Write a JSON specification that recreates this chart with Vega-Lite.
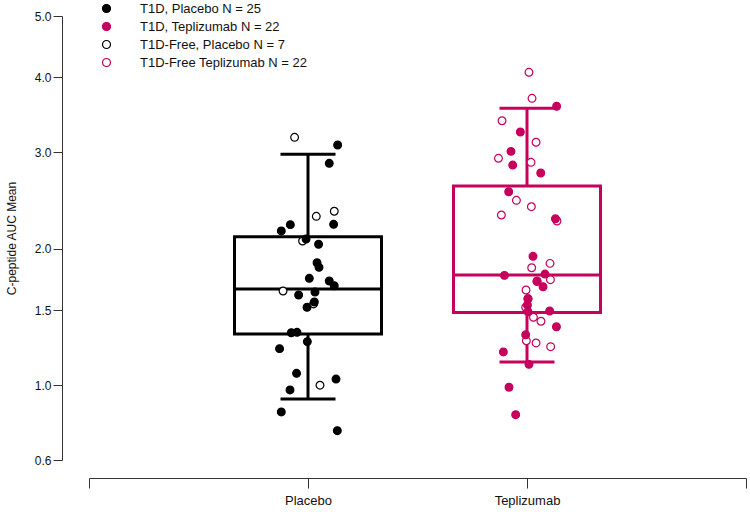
{
  "$schema": "https://vega.github.io/schema/vega-lite/v6.json",
  "autosize": "none",
  "width": 657,
  "height": 444,
  "padding": {"left": 89, "top": 16, "right": 4, "bottom": 52},
  "background": "white",
  "config": {
    "view": {"stroke": null},
    "font": "Liberation Sans",
    "tick": {"opacity": 1},
    "axis": {"grid": false, "domainColor": "#333333", "tickColor": "#333333", "labelColor": "#111111", "titleColor": "#111111", "labelFont": "Liberation Sans", "titleFont": "Liberation Sans", "titleFontWeight": "normal"},
    "legend": {"labelFont": "Liberation Sans", "labelFontSize": 13, "labelColor": "#111111", "labelLimit": 0}
  },
  "datasets": {
    "stats": [
      {"group": "Placebo", "low": 0.919, "q1": 1.328, "median": 1.662, "q3": 2.11, "high": 2.975},
      {"group": "Teplizumab", "low": 1.142, "q1": 1.483, "median": 1.775, "q3": 2.617, "high": 3.56}
    ],
    "points": [
      {"group": "Placebo", "series": "T1D-Free, Placebo N = 7", "value": 3.181, "jitter": -0.123},
      {"group": "Placebo", "series": "T1D-Free, Placebo N = 7", "value": 2.355, "jitter": 0.241},
      {"group": "Placebo", "series": "T1D-Free, Placebo N = 7", "value": 2.305, "jitter": 0.076},
      {"group": "Placebo", "series": "T1D-Free, Placebo N = 7", "value": 2.071, "jitter": -0.05},
      {"group": "Placebo", "series": "T1D-Free, Placebo N = 7", "value": 1.646, "jitter": -0.229},
      {"group": "Placebo", "series": "T1D-Free, Placebo N = 7", "value": 1.546, "jitter": 0.051},
      {"group": "Placebo", "series": "T1D-Free, Placebo N = 7", "value": 0.999, "jitter": 0.11},
      {"group": "Teplizumab", "series": "T1D-Free Teplizumab N = 22", "value": 4.074, "jitter": 0.018},
      {"group": "Teplizumab", "series": "T1D-Free Teplizumab N = 22", "value": 3.696, "jitter": 0.046},
      {"group": "Teplizumab", "series": "T1D-Free Teplizumab N = 22", "value": 3.393, "jitter": -0.229},
      {"group": "Teplizumab", "series": "T1D-Free Teplizumab N = 22", "value": 3.12, "jitter": 0.083},
      {"group": "Teplizumab", "series": "T1D-Free Teplizumab N = 22", "value": 2.928, "jitter": -0.262},
      {"group": "Teplizumab", "series": "T1D-Free Teplizumab N = 22", "value": 2.881, "jitter": 0.037},
      {"group": "Teplizumab", "series": "T1D-Free Teplizumab N = 22", "value": 2.466, "jitter": -0.097},
      {"group": "Teplizumab", "series": "T1D-Free Teplizumab N = 22", "value": 2.401, "jitter": 0.04},
      {"group": "Teplizumab", "series": "T1D-Free Teplizumab N = 22", "value": 2.318, "jitter": -0.235},
      {"group": "Teplizumab", "series": "T1D-Free Teplizumab N = 22", "value": 2.259, "jitter": 0.275},
      {"group": "Teplizumab", "series": "T1D-Free Teplizumab N = 22", "value": 1.873, "jitter": 0.211},
      {"group": "Teplizumab", "series": "T1D-Free Teplizumab N = 22", "value": 1.836, "jitter": 0.043},
      {"group": "Teplizumab", "series": "T1D-Free Teplizumab N = 22", "value": 1.737, "jitter": 0.215},
      {"group": "Teplizumab", "series": "T1D-Free Teplizumab N = 22", "value": 1.654, "jitter": -0.009},
      {"group": "Teplizumab", "series": "T1D-Free Teplizumab N = 22", "value": 1.521, "jitter": -0.012},
      {"group": "Teplizumab", "series": "T1D-Free Teplizumab N = 22", "value": 1.447, "jitter": 0.059},
      {"group": "Teplizumab", "series": "T1D-Free Teplizumab N = 22", "value": 1.418, "jitter": 0.128},
      {"group": "Teplizumab", "series": "T1D-Free Teplizumab N = 22", "value": 1.282, "jitter": -0.006},
      {"group": "Teplizumab", "series": "T1D-Free Teplizumab N = 22", "value": 1.267, "jitter": 0.083},
      {"group": "Teplizumab", "series": "T1D-Free Teplizumab N = 22", "value": 1.242, "jitter": 0.217},
      {"group": "Teplizumab", "series": "T1D-Free Teplizumab N = 22", "value": 1.586, "jitter": 0.009},
      {"group": "Teplizumab", "series": "T1D-Free Teplizumab N = 22", "value": 1.724, "jitter": 0.092},
      {"group": "Placebo", "series": "T1D, Placebo N = 25", "value": 3.087, "jitter": 0.272},
      {"group": "Placebo", "series": "T1D, Placebo N = 25", "value": 2.87, "jitter": 0.195},
      {"group": "Placebo", "series": "T1D, Placebo N = 25", "value": 2.224, "jitter": -0.162},
      {"group": "Placebo", "series": "T1D, Placebo N = 25", "value": 2.164, "jitter": -0.245},
      {"group": "Placebo", "series": "T1D, Placebo N = 25", "value": 2.227, "jitter": 0.235},
      {"group": "Placebo", "series": "T1D, Placebo N = 25", "value": 2.089, "jitter": -0.018},
      {"group": "Placebo", "series": "T1D, Placebo N = 25", "value": 2.041, "jitter": 0.097},
      {"group": "Placebo", "series": "T1D, Placebo N = 25", "value": 1.878, "jitter": 0.083},
      {"group": "Placebo", "series": "T1D, Placebo N = 25", "value": 1.839, "jitter": 0.101},
      {"group": "Placebo", "series": "T1D, Placebo N = 25", "value": 1.748, "jitter": 0.012},
      {"group": "Placebo", "series": "T1D, Placebo N = 25", "value": 1.726, "jitter": 0.195},
      {"group": "Placebo", "series": "T1D, Placebo N = 25", "value": 1.688, "jitter": 0.241},
      {"group": "Placebo", "series": "T1D, Placebo N = 25", "value": 1.615, "jitter": -0.086},
      {"group": "Placebo", "series": "T1D, Placebo N = 25", "value": 1.638, "jitter": 0.064},
      {"group": "Placebo", "series": "T1D, Placebo N = 25", "value": 1.561, "jitter": 0.058},
      {"group": "Placebo", "series": "T1D, Placebo N = 25", "value": 1.521, "jitter": -0.009},
      {"group": "Placebo", "series": "T1D, Placebo N = 25", "value": 1.337, "jitter": -0.153},
      {"group": "Placebo", "series": "T1D, Placebo N = 25", "value": 1.34, "jitter": -0.101},
      {"group": "Placebo", "series": "T1D, Placebo N = 25", "value": 1.276, "jitter": -0.006},
      {"group": "Placebo", "series": "T1D, Placebo N = 25", "value": 1.229, "jitter": -0.261},
      {"group": "Placebo", "series": "T1D, Placebo N = 25", "value": 1.071, "jitter": -0.105},
      {"group": "Placebo", "series": "T1D, Placebo N = 25", "value": 1.036, "jitter": 0.257},
      {"group": "Placebo", "series": "T1D, Placebo N = 25", "value": 0.971, "jitter": -0.165},
      {"group": "Placebo", "series": "T1D, Placebo N = 25", "value": 0.846, "jitter": -0.245},
      {"group": "Placebo", "series": "T1D, Placebo N = 25", "value": 0.746, "jitter": 0.269},
      {"group": "Teplizumab", "series": "T1D, Teplizumab N = 22", "value": 3.586, "jitter": 0.272},
      {"group": "Teplizumab", "series": "T1D, Teplizumab N = 22", "value": 3.248, "jitter": -0.061},
      {"group": "Teplizumab", "series": "T1D, Teplizumab N = 22", "value": 3.01, "jitter": -0.147},
      {"group": "Teplizumab", "series": "T1D, Teplizumab N = 22", "value": 2.85, "jitter": -0.131},
      {"group": "Teplizumab", "series": "T1D, Teplizumab N = 22", "value": 2.76, "jitter": 0.126},
      {"group": "Teplizumab", "series": "T1D, Teplizumab N = 22", "value": 2.556, "jitter": -0.168},
      {"group": "Teplizumab", "series": "T1D, Teplizumab N = 22", "value": 2.281, "jitter": 0.261},
      {"group": "Teplizumab", "series": "T1D, Teplizumab N = 22", "value": 1.934, "jitter": 0.055},
      {"group": "Teplizumab", "series": "T1D, Teplizumab N = 22", "value": 1.772, "jitter": -0.207},
      {"group": "Teplizumab", "series": "T1D, Teplizumab N = 22", "value": 1.783, "jitter": 0.165},
      {"group": "Teplizumab", "series": "T1D, Teplizumab N = 22", "value": 1.724, "jitter": 0.092},
      {"group": "Teplizumab", "series": "T1D, Teplizumab N = 22", "value": 1.68, "jitter": 0.147},
      {"group": "Teplizumab", "series": "T1D, Teplizumab N = 22", "value": 1.586, "jitter": 0.009},
      {"group": "Teplizumab", "series": "T1D, Teplizumab N = 22", "value": 1.538, "jitter": 0.004},
      {"group": "Teplizumab", "series": "T1D, Teplizumab N = 22", "value": 1.488, "jitter": 0.009},
      {"group": "Teplizumab", "series": "T1D, Teplizumab N = 22", "value": 1.493, "jitter": 0.208},
      {"group": "Teplizumab", "series": "T1D, Teplizumab N = 22", "value": 1.379, "jitter": 0.27},
      {"group": "Teplizumab", "series": "T1D, Teplizumab N = 22", "value": 1.323, "jitter": -0.012},
      {"group": "Teplizumab", "series": "T1D, Teplizumab N = 22", "value": 1.207, "jitter": -0.217},
      {"group": "Teplizumab", "series": "T1D, Teplizumab N = 22", "value": 1.127, "jitter": 0.018},
      {"group": "Teplizumab", "series": "T1D, Teplizumab N = 22", "value": 0.987, "jitter": -0.165},
      {"group": "Teplizumab", "series": "T1D, Teplizumab N = 22", "value": 0.831, "jitter": -0.104}
    ]
  },
  "encoding": {
    "x": {
      "field": "group",
      "type": "nominal",
      "scale": {"type": "point", "domain": ["_l", "Placebo", "Teplizumab", "_r"], "padding": 0},
      "axis": {
        "title": null,
        "offset": 18,
        "labelAngle": 0,
        "tickSize": 10,
        "labelPadding": 6,
        "labelFontSize": 13,
        "labelExpr": "datum.value == '_l' || datum.value == '_r' ? '' : datum.value"
      }
    }
  },
  "layer": [
    {
      "data": {"name": "stats"},
      "mark": {"type": "rule", "strokeWidth": 3},
      "encoding": {
        "y": {"field": "low", "type": "quantitative"},
        "y2": {"field": "q1"},
        "color": {"field": "group", "type": "nominal", "scale": {"domain": ["Placebo", "Teplizumab"], "range": ["#000000", "#C6005C"]}, "legend": null}
      }
    },
    {
      "data": {"name": "stats"},
      "mark": {"type": "rule", "strokeWidth": 3},
      "encoding": {
        "y": {"field": "q3", "type": "quantitative"},
        "y2": {"field": "high"},
        "color": {"field": "group", "type": "nominal", "legend": null}
      }
    },
    {
      "data": {"name": "stats"},
      "mark": {"type": "bar", "filled": false, "strokeWidth": 3, "width": 147},
      "encoding": {
        "y": {"field": "q1", "type": "quantitative"},
        "y2": {"field": "q3"},
        "color": {"field": "group", "type": "nominal", "legend": null}
      }
    },
    {
      "data": {"name": "stats"},
      "mark": {"type": "tick", "thickness": 3, "size": 147, "opacity": 1},
      "encoding": {
        "y": {"field": "median", "type": "quantitative"},
        "color": {"field": "group", "type": "nominal", "legend": null}
      }
    },
    {
      "data": {"name": "stats"},
      "mark": {"type": "tick", "thickness": 3, "size": 55, "opacity": 1},
      "encoding": {
        "y": {"field": "low", "type": "quantitative"},
        "color": {"field": "group", "type": "nominal", "legend": null}
      }
    },
    {
      "data": {"name": "stats"},
      "mark": {"type": "tick", "thickness": 3, "size": 55, "opacity": 1},
      "encoding": {
        "y": {"field": "high", "type": "quantitative"},
        "color": {"field": "group", "type": "nominal", "legend": null}
      }
    },
    {
      "data": {"name": "points"},
      "mark": {"type": "point", "shape": "circle", "filled": true, "size": 60, "strokeWidth": 1.2, "opacity": 1},
      "encoding": {
        "y": {
          "field": "value",
          "type": "quantitative",
          "scale": {"type": "symlog", "constant": 1, "domain": [0.6, 5], "nice": false, "zero": false},
          "axis": {
            "title": "C-peptide AUC Mean",
            "titleFontSize": 12,
            "titlePadding": 16,
            "offset": 27,
            "values": [0.6, 1, 1.5, 2, 3, 4, 5],
            "format": ".1f",
            "labelFontSize": 12,
            "tickSize": 9,
            "labelPadding": 2
          }
        },
        "xOffset": {"field": "jitter", "type": "quantitative", "scale": {"domain": [-1, 1], "range": [-109, 109]}},
        "fill": {
          "field": "series",
          "type": "nominal",
          "scale": {"domain": ["T1D, Placebo N = 25", "T1D, Teplizumab N = 22", "T1D-Free, Placebo N = 7", "T1D-Free Teplizumab N = 22"], "range": ["#000000", "#C6005C", "#FFFFFF", "#FFFFFF"]},
          "legend": {"title": null, "orient": "none", "legendX": 11, "legendY": -14, "padding": 0, "rowPadding": 4, "labelOffset": 27, "symbolType": "circle", "symbolSize": 64, "symbolStrokeWidth": 1.2, "labelLimit": 0}
        },
        "stroke": {
          "field": "series",
          "type": "nominal",
          "scale": {"domain": ["T1D, Placebo N = 25", "T1D, Teplizumab N = 22", "T1D-Free, Placebo N = 7", "T1D-Free Teplizumab N = 22"], "range": ["#000000", "#C6005C", "#000000", "#C6005C"]},
          "legend": {"title": null, "orient": "none", "legendX": 11, "legendY": -14, "padding": 0, "rowPadding": 4, "labelOffset": 27, "symbolType": "circle", "symbolSize": 64, "symbolStrokeWidth": 1.2, "labelLimit": 0}
        }
      }
    }
  ]
}
